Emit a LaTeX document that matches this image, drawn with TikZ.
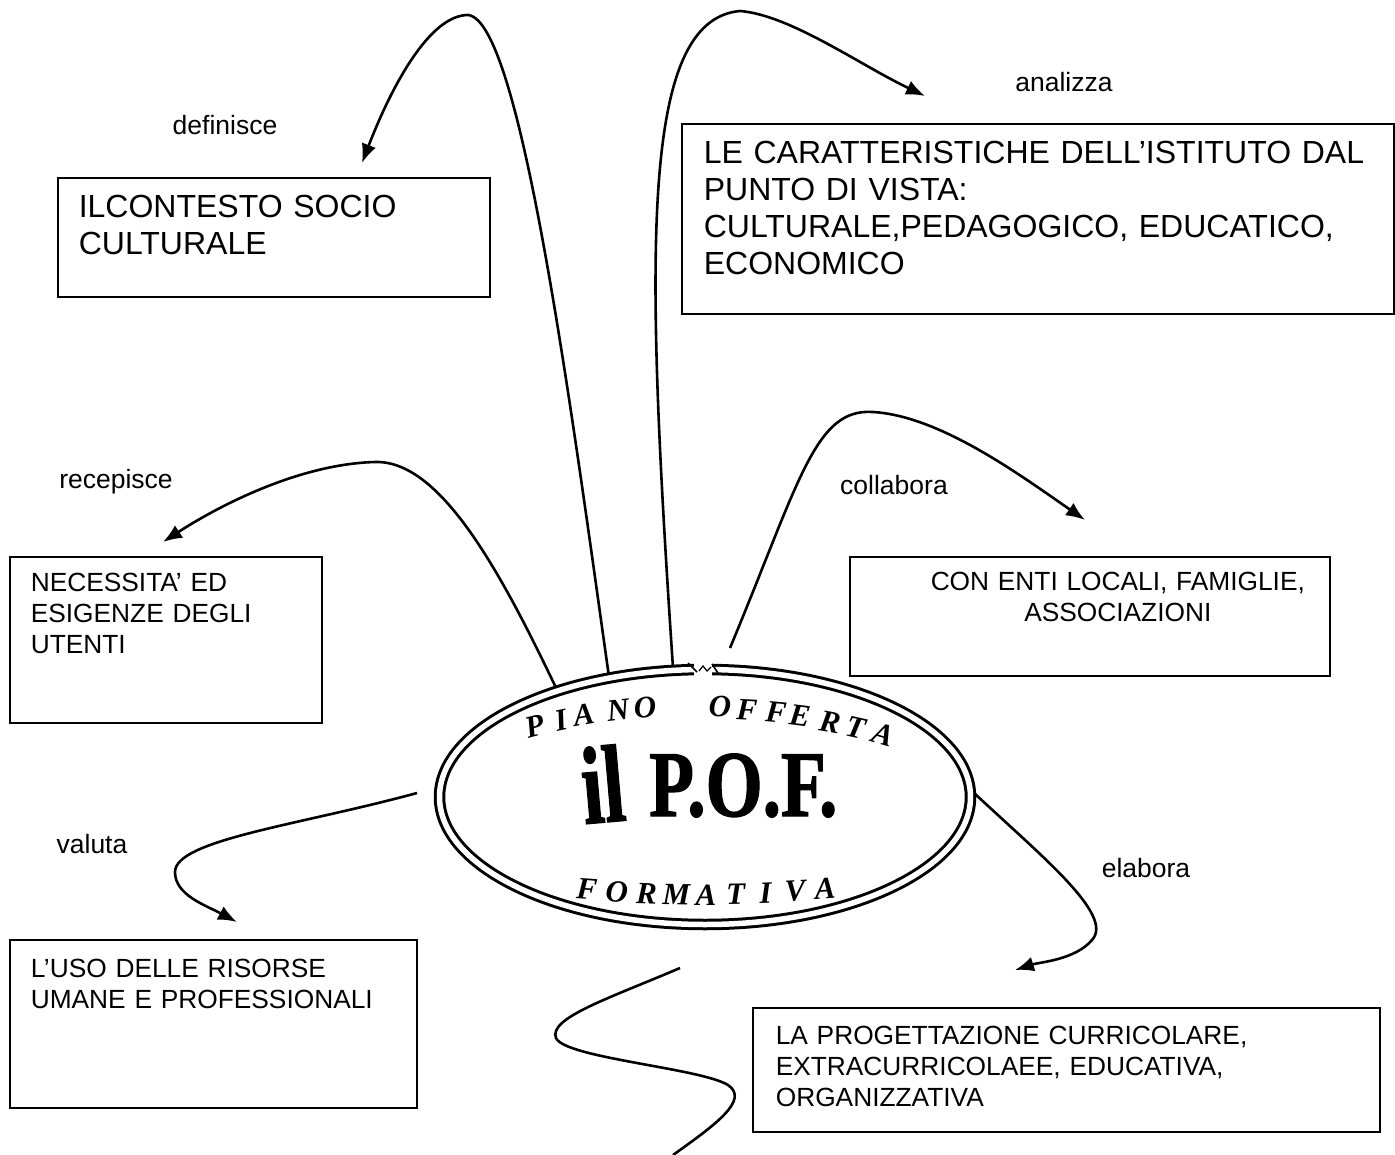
\documentclass[tikz,border=0pt]{standalone}
\usepackage{fontspec}
\setmainfont{Liberation Sans}
\newfontfamily\pofserif{Liberation Serif}
\newfontfamily\pofheavy{Liberation Serif}[BoldFeatures={FakeBold=1.5}]
\usetikzlibrary{arrows.meta,shapes.geometric}
\begin{document}
\begin{tikzpicture}[x=1pt,y=-1pt,
  conn/.style={line width=2.6pt, -{Latex[length=19pt,width=15pt]}},
  wave/.style={line width=2.6pt},
  tbox/.style={draw, line width=1.6pt, inner sep=0pt, anchor=north west},
  bigt/.style={font=\fontsize{32}{37}\selectfont},
  smallt/.style={font=\fontsize{26.3}{31}\selectfont},
  lbl/.style={font=\fontsize{26.5}{31}\selectfont, inner sep=0pt},
  arcl/.style={font=\pofserif\bfseries\itshape\fontsize{31}{31}\selectfont, inner sep=0pt},
  pofbig/.style={font=\pofheavy\bfseries, inner sep=0pt},
]
\useasboundingbox (0,0) rectangle (1395,1155);

% boxes
\node[tbox, bigt, text width=432pt, text height=40.2pt, text depth=78.8pt] (ctx) at (57,177)
  {\raggedright\leftskip=21pt ILCONTESTO SOCIO\\CULTURALE\par};
\node[tbox, bigt, text width=712pt, text height=40pt, text depth=150pt] (car) at (681,123)
  {\raggedright\leftskip=22pt LE CARATTERISTICHE DELL’ISTITUTO DAL\\PUNTO DI VISTA:\\CULTURALE,PEDAGOGICO, EDUCATICO,\\ECONOMICO\par};
\node[tbox, smallt, text width=312pt, text height=34.3pt, text depth=131.7pt] (nec) at (9,556)
  {\raggedright\leftskip=21pt NECESSITA’ ED\\ESIGENZE DEGLI\\UTENTI\par};
\node[tbox, smallt, text width=480pt, text height=34pt, text depth=85pt] (enti) at (849,556)
  {\centering\leftskip=56pt plus 1fil CON ENTI LOCALI, FAMIGLIE,\\ASSOCIAZIONI\par};
\node[tbox, smallt, text width=407pt, text height=37.3pt, text depth=130.7pt] (uso) at (9,939)
  {\raggedright\leftskip=21pt L’USO DELLE RISORSE\\UMANE E PROFESSIONALI\par};
\node[tbox, smallt, text width=627pt, text height=36.3pt, text depth=87.7pt] (prog) at (752,1007)
  {\raggedright\leftskip=23pt LA PROGETTAZIONE CURRICOLARE,\\EXTRACURRICOLAEE, EDUCATIVA,\\ORGANIZZATIVA\par};

% labels
\node[lbl] (ldef) at (225,125) {definisce};
\node[lbl] (lana) at (1064,82) {analizza};
\node[lbl] (lrec) at (116,482) {recepisce};
\node[lbl] (lcol) at (894,485) {collabora};
\node[lbl] (lval) at (92,844) {valuta};
\node[lbl] (lela) at (1146,868) {elabora};

% connector end points
\coordinate (d0) at (609,677); \coordinate (d1) at (362,163);
\coordinate (a0) at (673,668); \coordinate (a1) at (925,96);
\coordinate (r0) at (558,692); \coordinate (r1) at (163,542);
\coordinate (c0) at (730,648); \coordinate (c1) at (1085,520);
\coordinate (v0) at (417,793); \coordinate (v1) at (237,922);
\coordinate (e0) at (973,792); \coordinate (e1) at (1015,970);
\coordinate (q0) at (680,968); \coordinate (q1) at (673,1155);

\draw[conn] (d0) .. controls (570,400) and (520,20) .. (468,15) .. controls (430,15) and (392,85) .. (d1);
\draw[conn] (a0) .. controls (645,250) and (640,20) .. (740,11) .. controls (790,15) and (860,65) .. (a1);
\draw[conn] (r0) .. controls (500,570) and (440,460) .. (375,462) .. controls (300,464) and (220,505) .. (r1);
\draw[conn] (c0) .. controls (800,480) and (815,408) .. (873,412) .. controls (940,416) and (1020,475) .. (c1);
\draw[conn] (v0) .. controls (300,825) and (175,840) .. (175,872) .. controls (175,895) and (205,905) .. (v1);
\draw[conn] (e0) .. controls (1040,855) and (1115,915) .. (1092,940) .. controls (1075,960) and (1040,962) .. (e1);
\draw[wave] (q0) .. controls (610,998) and (548,1018) .. (556,1038) .. controls (565,1058) and (700,1068) .. (728,1085) .. controls (750,1100) and (715,1125) .. (q1);

% central ellipse
\node[draw, ellipse, double, double distance=5.5pt, line width=3pt, minimum width=531pt, minimum height=255pt, inner sep=0pt] (pof) at (705,797) {};
\fill[white] (694,659) rectangle (712,679);
\draw[line width=1.6pt] (688,663) -- (697,672);
\draw[line width=1.2pt] (699,671) -- (703,666) -- (707,671) -- (711,667);
\draw[line width=1.6pt] (712,664) -- (718,673);

% arched title letters
\node[arcl, rotate=15]   (p1) at (535,726) {P};
\node[arcl, rotate=12]   (p2) at (561,720) {I};
\node[arcl, rotate=9.5]  (p3) at (584,715) {A};
\node[arcl, rotate=6.4]  (p4) at (618,710) {N};
\node[arcl, rotate=4.3]  (p5) at (645,708) {O};
\node[arcl, rotate=-0.7] (o1) at (720,707) {O};
\node[arcl, rotate=-3]   (o2) at (747,710) {F};
\node[arcl, rotate=-5.2] (o3) at (776,712) {F};
\node[arcl, rotate=-7.1] (o4) at (800,716) {E};
\node[arcl, rotate=-9.8] (o5) at (830,722) {R};
\node[arcl, rotate=-12.6](o6) at (856,728) {T};
\node[arcl, rotate=-16.2](o7) at (883,735) {A};

\node[pofbig, anchor=base, rotate=5] (il) at (606,822) {\fontsize{110}{110}\selectfont\scalebox{0.7}[1]{il}};
\node[pofbig, anchor=base west] (pofname) at (649,816) {\fontsize{94}{94}\selectfont\scalebox{0.78}[1]{P.O.F.}};

\node[arcl, rotate=-4]  (f1) at (587,889) {F};
\node[arcl, rotate=-3]  (f2) at (616.75,892) {O};
\node[arcl, rotate=-2]  (f3) at (646.5,894) {R};
\node[arcl, rotate=-1]  (f4) at (676.25,895) {M};
\node[arcl, rotate=0]   (f5) at (706,895) {A};
\node[arcl, rotate=1]   (f6) at (735.75,894) {T};
\node[arcl, rotate=2]   (f7) at (765.5,893) {I};
\node[arcl, rotate=3]   (f8) at (795.25,891) {V};
\node[arcl, rotate=4]   (f9) at (825,889) {A};
\end{tikzpicture}
\end{document}
